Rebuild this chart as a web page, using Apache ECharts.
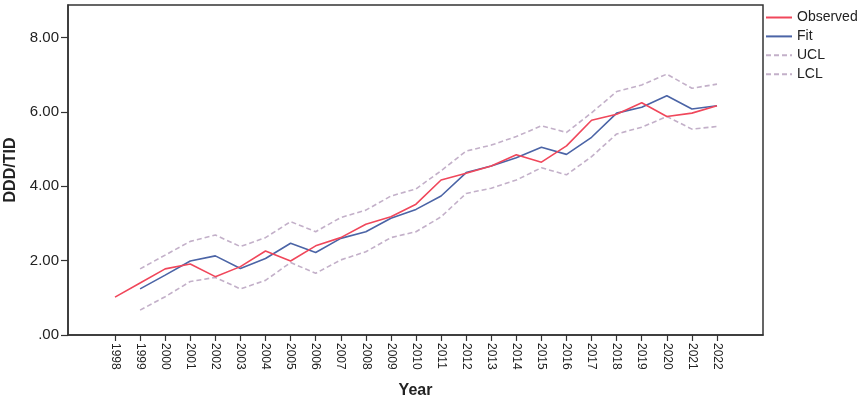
<!DOCTYPE html>
<html>
<head>
<meta charset="utf-8">
<script src="https://cdn.jsdelivr.net/npm/echarts@6/dist/echarts.min.js"></script>
<style>html,body{margin:0;padding:0;background:#fff}#c{width:865px;height:398px}</style>
</head>
<body>
<div id="c"></div>
<script>
const years = [1998,1999,2000,2001,2002,2003,2004,2005,2006,2007,2008,2009,2010,2011,2012,2013,2014,2015,2016,2017,2018,2019,2020,2021,2022];
const observed = [1.02,1.40,1.78,1.91,1.57,1.84,2.26,1.99,2.40,2.62,2.98,3.18,3.52,4.17,4.35,4.55,4.85,4.65,5.09,5.78,5.94,6.25,5.88,5.97,6.17];
const fit = [null,1.24,1.61,1.99,2.13,1.79,2.06,2.47,2.22,2.60,2.78,3.14,3.38,3.74,4.37,4.55,4.77,5.05,4.86,5.32,5.97,6.13,6.44,6.08,6.17];
const ucl = [null,1.78,2.15,2.52,2.69,2.38,2.62,3.05,2.78,3.16,3.36,3.74,3.93,4.42,4.95,5.11,5.34,5.63,5.45,5.98,6.55,6.73,7.02,6.64,6.75];
const lcl = [null,0.67,1.03,1.44,1.55,1.24,1.47,1.95,1.66,2.02,2.24,2.62,2.78,3.18,3.81,3.95,4.17,4.50,4.31,4.80,5.41,5.59,5.88,5.54,5.61];
const yTicks = [0,2,4,6,8];

const pair = arr => years.map((y,i) => arr[i] == null ? null : [y, arr[i]]).filter(d => d);
const FONT = "'Liberation Sans', Arial, sans-serif";
const chart = echarts.init(document.getElementById('c'));
chart.setOption({
  animation: false,
  backgroundColor: '#fff',
  grid: { left: 68, top: 5, right: 102, bottom: 63, outerBoundsMode: 'none', containLabel: false, show: true, borderColor: '#333', borderWidth: 1.5, backgroundColor: 'transparent' },
  legend: {
    orient: 'vertical', left: 765, top: 10.5, padding: 0, itemWidth: 26, itemHeight: 14, itemGap: 4.9,
    itemStyle: { opacity: 0 },
    textStyle: { fontFamily: FONT, fontSize: 14, color: '#222' },
    data: ['Observed','Fit','UCL','LCL']
  },
  xAxis: {
    type: 'value', min: 1996.126, max: 2023.834,
    name: 'Year', nameLocation: 'middle', nameGap: 48,
    nameTextStyle: { fontFamily: FONT, fontSize: 16, fontWeight: 'bold', color: '#222' },
    axisLine: { show: true, lineStyle: { color: '#333', width: 1.5 } },
    axisTick: { show: true, length: 6, customValues: years, lineStyle: { color: '#333', width: 1.2 } },
    axisLabel: { customValues: years, rotate: -90, margin: 8, fontFamily: FONT, fontSize: 12, color: '#222', formatter: v => String(v) },
    splitLine: { show: false }
  },
  yAxis: {
    type: 'value', min: 0, max: 8.88,
    name: 'DDD/TID', nameLocation: 'middle', nameGap: 46,
    nameTextStyle: { fontFamily: FONT, fontSize: 16, fontWeight: 'bold', color: '#222' },
    axisLine: { show: true, lineStyle: { color: '#333', width: 1.5 } },
    axisTick: { show: true, length: 7, customValues: yTicks, lineStyle: { color: '#333', width: 1.2 } },
    axisLabel: { customValues: yTicks, margin: 9, fontFamily: FONT, fontSize: 15, color: '#222', formatter: v => v === 0 ? '.00' : v.toFixed(2) },
    splitLine: { show: false }
  },
  series: [
    { name: 'Observed', type: 'line', data: pair(observed), symbol: 'none', lineStyle: { color: '#f0475b', width: 1.6 }, itemStyle: { color: '#f0475b' }, z: 4 },
    { name: 'Fit', type: 'line', data: pair(fit), symbol: 'none', lineStyle: { color: '#4b64a6', width: 1.6 }, itemStyle: { color: '#4b64a6' }, z: 3 },
    { name: 'UCL', type: 'line', data: pair(ucl), symbol: 'none', lineStyle: { color: '#c3b0c9', width: 1.6, type: [5,3] }, itemStyle: { color: '#c3b0c9' }, z: 2 },
    { name: 'LCL', type: 'line', data: pair(lcl), symbol: 'none', lineStyle: { color: '#c3b0c9', width: 1.6, type: [5,3] }, itemStyle: { color: '#c3b0c9' }, z: 2 }
  ]
});
</script>
</body>
</html>
